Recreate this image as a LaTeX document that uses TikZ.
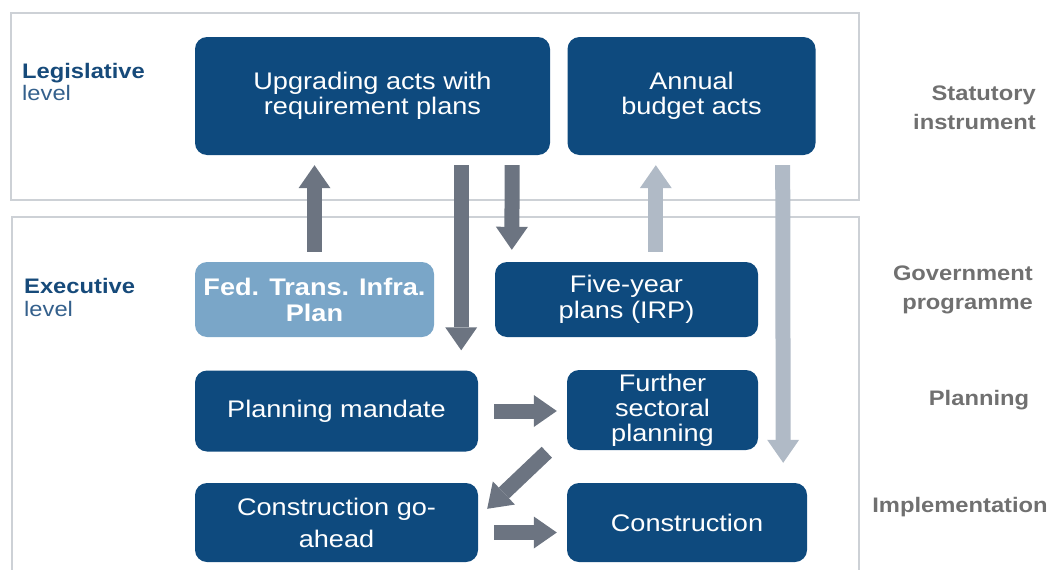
\documentclass[tikz,border=0pt]{standalone}
\usepackage{fontspec}
\setmainfont{Liberation Sans}
\newfontfamily\dg[FakeStretch=1.13]{Liberation Sans}
\usetikzlibrary{arrows.meta,calc}

\definecolor{boxblue}{RGB}{14,74,126}
\definecolor{boxlight}{RGB}{122,166,200}
\definecolor{arrdark}{RGB}{108,116,129}
\definecolor{arrlight}{RGB}{176,186,198}
\definecolor{framegray}{RGB}{205,209,214}
\definecolor{levelnavy}{RGB}{22,74,122}
\definecolor{levelblue}{RGB}{52,96,140}
\definecolor{labelgray}{RGB}{112,112,112}

\begin{document}
\begin{tikzpicture}[x=1pt,y=-1pt,
  box/.style={rectangle, rounded corners=12pt, fill=boxblue, text=white,
    align=center, inner sep=0pt, font=\dg\fontsize{24}{25}\selectfont},
  lightbox/.style={box, fill=boxlight, font=\dg\bfseries\fontsize{24}{26}\selectfont},
  fatarrow/.style={line width=15pt,
    -{Triangle[length=23pt,width=32pt,line width=0pt]}},
  darkarrow/.style={fatarrow, draw=arrdark},
  lightarrow/.style={fatarrow, draw=arrlight},
  frame/.style={draw=framegray, line width=2.2pt},
  levelhead/.style={anchor=base west, text=levelnavy, inner sep=0pt,
    font=\dg\bfseries\fontsize{21}{22}\selectfont},
  levelsub/.style={anchor=base west, text=levelblue, inner sep=0pt,
    font=\dg\fontsize{21}{22}\selectfont},
  sidelabel/.style={text=labelgray, inner sep=0pt,
    font=\dg\bfseries\fontsize{21}{29}\selectfont}
]
\useasboundingbox (0,0) rectangle (1047,570);
\clip (0,0) rectangle (1047,570);

% level frames
\draw[frame] (11,13) rectangle (859,200);
\draw[frame] (12,580) -- (12,217) -- (859,217) -- (859,580);

% level captions
\node[levelhead] (legA) at (22,78) {Legislative};
\node[levelsub]  (legB) at (22,100) {level};
\node[levelhead] (exeA) at (24,293) {Executive};
\node[levelsub]  (exeB) at (24,316) {level};

% boxes
\node[box, minimum width=355pt, minimum height=118pt] (up) at (372.5,96)
  {Upgrading acts with\\requirement plans};
\node[box, minimum width=248pt, minimum height=118pt] (annual) at (691.5,96)
  {Annual\\budget acts};
\node[lightbox, minimum width=239pt, minimum height=75pt] (fed) at (314.5,299.5)
  {Fed. Trans. Infra.\\Plan};
\node[box, minimum width=263pt, minimum height=75pt,
  font=\dg\fontsize{24}{26}\selectfont] (five) at (626.5,299.5)
  {Five-year\\plans (IRP)};
\node[box, minimum width=283pt, minimum height=81pt] (mandate) at (336.5,411)
  {Planning mandate};
\node[box, minimum width=191pt, minimum height=80pt] (further) at (662.5,410)
  {Further\\sectoral\\planning};
\node[box, minimum width=283pt, minimum height=79pt,
  font=\dg\fontsize{24}{32}\selectfont] (goahead) at (336.5,522.5)
  {Construction go-\\ahead};
\node[box, minimum width=240pt, minimum height=79pt] (constr) at (687,522.5)
  {Construction};

% row captions
\node[sidelabel, anchor=east, align=right] (stat) at (1036,108)
  {Statutory\\instrument};
\node[sidelabel, anchor=east, align=right] (gov) at (1033,290)
  {Government\\programme};
\node[sidelabel, anchor=base] (plan) at (979,405) {Planning};
\node[sidelabel, anchor=base] (impl) at (960,512) {Implementation};

% flows
\draw[darkarrow] ([yshift=10pt]fed.north) -- ([yshift=-10pt]fed.north |- up.south);
\draw[darkarrow] ([xshift=-89pt,yshift=-10pt]up.south east)
  -- ([xshift=-17pt,yshift=20pt]mandate.north east);
\draw[darkarrow] ([xshift=-38pt,yshift=-10pt]up.south east)
  -- ([xshift=17pt,yshift=12pt]five.north west);
\draw[lightarrow] ([xshift=161pt,yshift=10pt]five.north west)
  -- ([xshift=88.5pt,yshift=-10pt]annual.south west);
\draw[lightarrow] ([xshift=-33pt,yshift=-10pt]annual.south east)
  -- ([xshift=-24pt,yshift=20pt]constr.north east);
\draw[darkarrow] ([xshift=16pt]mandate.east) -- ([xshift=-10pt]mandate.east -| further.west);
\draw[darkarrow] ([xshift=-20pt,yshift=-2pt]further.south west)
  -- ([xshift=9pt,yshift=-26pt]goahead.north east);
\draw[darkarrow] ([xshift=16pt,yshift=-10pt]goahead.east)
  -- ([xshift=-10pt,yshift=-10pt]constr.west);
\end{tikzpicture}
\end{document}
